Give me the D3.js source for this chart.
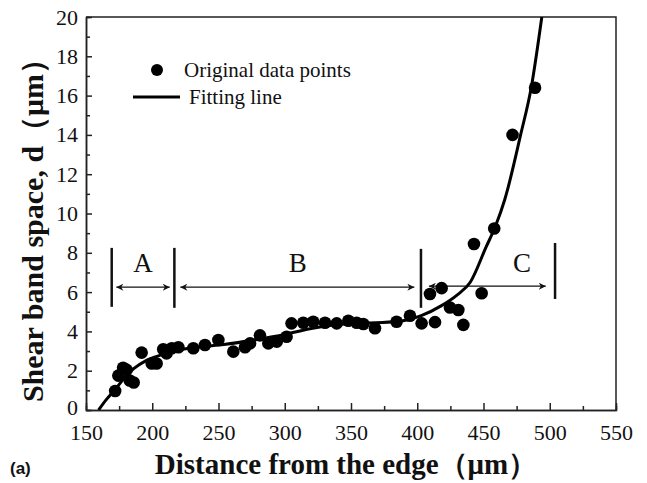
<!DOCTYPE html>
<html>
<head>
<meta charset="utf-8">
<script src="https://cdn.jsdelivr.net/npm/d3@7"></script>
<style>
  body { margin: 0; background: #fff; }
  svg text { font-family: "Liberation Serif", "DejaVu Serif", serif; }
</style>
</head>
<body>
<div id="chart"></div>
<script>
// measured points (distance um, spacing um)
const pointX = [172, 174.4, 178, 180.7, 183, 186, 192, 199.6, 203.3, 208.3, 210.8, 214.7, 219.7,
  231, 239.8, 249.9, 261.2, 270, 273.8, 281.3, 287.6, 294, 301.4, 305.1, 314, 321.5, 330.4,
  339.2, 348, 354.3, 359.3, 368.1, 384.4, 394.5, 403.3, 409.6, 413.4, 418.4, 424.7, 431,
  434.8, 442.8, 448.6, 458.1, 471.9, 488.9];
const pointY = [0.97, 1.75, 2.15, 2.04, 1.5, 1.4, 2.92, 2.37, 2.37, 3.09, 2.88, 3.14, 3.19,
  3.14, 3.31, 3.56, 2.97, 3.19, 3.39, 3.8, 3.39, 3.48, 3.73, 4.41, 4.44, 4.49, 4.44,
  4.41, 4.54, 4.44, 4.38, 4.16, 4.49, 4.8, 4.41, 5.9, 4.47, 6.2, 5.22, 5.09,
  4.33, 8.45, 5.94, 9.24, 14.0, 16.4];

// fitted curve
const fitX = [159.5, 165, 172, 180, 186, 195, 203, 218, 235, 254, 280, 300, 320, 340, 360,
  385, 403, 418, 430, 440, 452, 459, 466, 478, 486, 494];
const fitY = [0, 0.5, 1.05, 1.7, 2.1, 2.5, 2.72, 3.02, 3.2, 3.33, 3.6, 3.85, 4.15, 4.35, 4.42,
  4.5, 4.8, 5.3, 5.85, 6.5, 8.3, 9.35, 10.7, 14.0, 16.4, 20];

// zone markers
const zoneNames = ["A", "B", "C"];
const zoneStart = [169.4, 216.7, 402.8];
const zoneEnd = [216.7, 402.8, 504];
const xTicks = [150, 200, 250, 300, 350, 400, 450, 500, 550];
const yTicks = [0, 2, 4, 6, 8, 10, 12, 14, 16, 18, 20];

const width = 647, height = 483;
const margin = { left: 86, right: 31, top: 17, bottom: 73 };

const svg = d3.select("#chart").append("svg")
  .attr("width", width).attr("height", height);

const x = d3.scaleLinear().domain([150, 550]).range([margin.left, width - margin.right]);
const y = d3.scaleLinear().domain([0, 20]).range([height - margin.bottom, margin.top]);

const defs = svg.append("defs");
defs.append("clipPath").attr("id", "plot")
  .append("rect")
  .attr("x", x(150)).attr("y", y(20))
  .attr("width", x(550) - x(150)).attr("height", y(0) - y(20));

// arrow heads
defs.append("marker").attr("id", "arr")
  .attr("viewBox", "0 0 10 10").attr("refX", 10).attr("refY", 5)
  .attr("markerWidth", 10).attr("markerHeight", 7).attr("markerUnits", "userSpaceOnUse")
  .attr("orient", "auto-start-reverse")
  .append("path").attr("d", "M0,0L10,5L0,10L3,5Z").attr("fill", "#111");

// axes, ticks inward
const xAxis = d3.axisBottom(x).tickValues(xTicks).tickSizeInner(-7).tickSizeOuter(0).tickPadding(14);
const xMinor = d3.axisBottom(x).tickValues(d3.range(175, 550, 50)).tickSize(-4).tickFormat("");
const yAxis = d3.axisLeft(y).tickValues(yTicks).tickSizeInner(-6).tickSizeOuter(0).tickPadding(8);
const yMinor = d3.axisLeft(y).tickValues(d3.range(1, 20, 2)).tickSize(-4).tickFormat("");

function styleAxis(g, size) {
  g.selectAll("path, line").attr("stroke", "#222").attr("stroke-width", 1.5);
  g.selectAll("text").attr("fill", "#111").style("font-size", size + "px")
    .style("font-family", "'Liberation Serif', serif");
}

svg.append("g").attr("transform", `translate(0,${y(0)})`).call(xAxis).call(styleAxis, 22);
svg.append("g").attr("transform", `translate(0,${y(0)})`).call(xMinor).call(styleAxis, 22);
const yg = svg.append("g").attr("transform", `translate(${x(150)},0)`).call(yAxis).call(styleAxis, 22);
yg.selectAll(".tick text").filter(d => d === 0).attr("dy", "0.2em");
svg.append("g").attr("transform", `translate(${x(150)},0)`).call(yMinor).call(styleAxis, 22);

// top and right frame
svg.append("path")
  .attr("d", `M${x(150)},${y(20)}H${x(550)}V${y(0)}`)
  .attr("fill", "none").attr("stroke", "#222").attr("stroke-width", 1.5);

// zone bars, arrows, labels
const zones = svg.append("g");
const bars = [zoneStart[0], zoneStart[1], zoneStart[2], zoneEnd[2]];
const barTop = [8.25, 8.25, 8.2, 8.5];
const barBot = [5.25, 5.2, 5.2, 5.65];
bars.forEach((b, i) => {
  zones.append("line")
    .attr("x1", x(b)).attr("x2", x(b))
    .attr("y1", y(barTop[i])).attr("y2", y(barBot[i]))
    .attr("stroke", "#111").attr("stroke-width", 2.5);
});
const arrowY = [6.25, 6.25, 6.3];
const arrowPad = [[3.5, 3.5], [4.5, 5], [6, 7]];
zoneNames.forEach((n, i) => {
  zones.append("line")
    .attr("x1", x(zoneStart[i] + arrowPad[i][0])).attr("x2", x(zoneEnd[i] - arrowPad[i][1]))
    .attr("y1", y(arrowY[i])).attr("y2", y(arrowY[i]))
    .attr("stroke", "#111").attr("stroke-width", 1.3)
    .attr("marker-start", "url(#arr)").attr("marker-end", "url(#arr)");
  let cx = (zoneStart[i] + zoneEnd[i]) / 2;
  if (i === 2) cx = 479;
  zones.append("text")
    .attr("x", x(cx)).attr("y", y(7.0))
    .attr("text-anchor", "middle")
    .style("font-size", "27px").attr("fill", "#111")
    .text(n);
});

// fit line
const line = d3.line().x((d, i) => x(fitX[i])).y(d => y(d)).curve(d3.curveMonotoneX);
svg.append("path")
  .datum(fitY)
  .attr("clip-path", "url(#plot)")
  .attr("d", line)
  .attr("fill", "none").attr("stroke", "#000").attr("stroke-width", 3);

// data points
svg.append("g").selectAll("circle")
  .data(pointY)
  .join("circle")
  .attr("cx", (d, i) => x(pointX[i]))
  .attr("cy", d => y(d))
  .attr("r", 6.3)
  .attr("fill", "#000");

// legend
const leg = svg.append("g");
leg.append("circle").attr("cx", 157).attr("cy", 70).attr("r", 6).attr("fill", "#000");
leg.append("text").attr("x", 184).attr("y", 77).style("font-size", "21px").attr("fill", "#111")
  .text("Original data points");
leg.append("line").attr("x1", 133).attr("x2", 180).attr("y1", 97).attr("y2", 97)
  .attr("stroke", "#000").attr("stroke-width", 3);
leg.append("text").attr("x", 189).attr("y", 104).style("font-size", "21px").attr("fill", "#111")
  .text("Fitting line");

// axis titles
svg.append("text")
  .attr("x", 346).attr("y", 474)
  .attr("text-anchor", "middle")
  .style("font-size", "29px").style("font-weight", "bold").attr("fill", "#111")
  .text("Distance from the edge（μm）");
svg.append("text")
  .attr("transform", `translate(43,${223}) rotate(-90)`)
  .attr("text-anchor", "middle")
  .style("font-size", "30px").style("font-weight", "bold").attr("fill", "#111")
  .text("Shear band space, d（μm）");

svg.append("text")
  .attr("x", 10).attr("y", 474)
  .style("font-family", "'Liberation Sans', Arial, sans-serif")
  .style("font-size", "17px").style("font-weight", "bold").attr("fill", "#111")
  .text("(a)");
</script>
</body>
</html>
